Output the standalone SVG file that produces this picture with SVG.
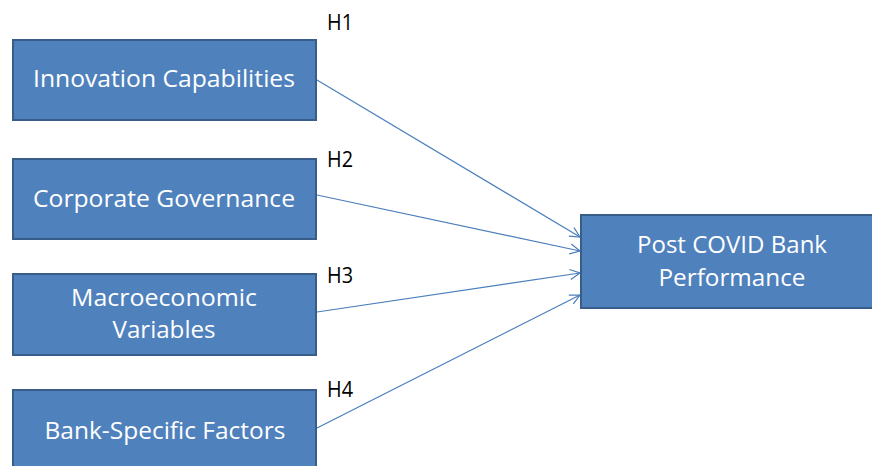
<svg xmlns="http://www.w3.org/2000/svg" width="872" height="466" viewBox="0 0 872 466">
  <style>
    .box { fill: #4f81bd; stroke: #385d8a; stroke-width: 2; }
    .label { fill: #ffffff; font-family: "Open Sans", "Liberation Sans", sans-serif; font-size: 23px; text-anchor: middle; }
    .hyp { fill: #000000; font-family: "Open Sans", "Liberation Sans", sans-serif; font-size: 21px; }
    .link { stroke: #4a7ebb; stroke-width: 1.2; fill: none; marker-end: url(#head); }
  </style>
  <defs>
    <marker id="head" viewBox="0 0 12 12" refX="11" refY="6" markerWidth="12" markerHeight="12" markerUnits="userSpaceOnUse" orient="auto">
      <path d="M1,1 L11,6 L1,11" fill="none" stroke="#4a7ebb" stroke-width="1.2"/>
    </marker>
  </defs>

  <rect width="872" height="466" fill="#ffffff"/>

  <g id="connectors">
    <line class="link" x1="317" y1="80" x2="580" y2="237"/>
    <line class="link" x1="317" y1="195" x2="580" y2="251"/>
    <line class="link" x1="317" y1="312" x2="580" y2="273"/>
    <line class="link" x1="317" y1="428" x2="580" y2="295"/>
  </g>

  <g id="innovation">
    <rect class="box" x="13" y="40" width="303" height="80"/>
    <text class="label" x="164" y="87" textLength="262" lengthAdjust="spacingAndGlyphs">Innovation Capabilities</text>
  </g>

  <g id="governance">
    <rect class="box" x="13" y="159" width="303" height="80"/>
    <text class="label" x="164" y="207" textLength="262" lengthAdjust="spacingAndGlyphs">Corporate Governance</text>
  </g>

  <g id="macro">
    <rect class="box" x="13" y="274" width="303" height="81"/>
    <text class="label" x="164" y="306" textLength="186" lengthAdjust="spacingAndGlyphs">Macroeconomic</text>
    <text class="label" x="164" y="338" textLength="103" lengthAdjust="spacingAndGlyphs">Variables</text>
  </g>

  <g id="bank-specific">
    <rect class="box" x="13" y="390" width="303" height="90"/>
    <text class="label" x="165" y="439" textLength="241" lengthAdjust="spacingAndGlyphs">Bank-Specific Factors</text>
  </g>

  <g id="performance">
    <rect class="box" x="581" y="215" width="302" height="93"/>
    <text class="label" x="732" y="253" textLength="190" lengthAdjust="spacingAndGlyphs">Post COVID Bank</text>
    <text class="label" x="732" y="286" textLength="147" lengthAdjust="spacingAndGlyphs">Performance</text>
  </g>

  <g id="hypotheses">
    <text class="hyp" x="327" y="30" textLength="26" lengthAdjust="spacingAndGlyphs">H1</text>
    <text class="hyp" x="327" y="167" textLength="26" lengthAdjust="spacingAndGlyphs">H2</text>
    <text class="hyp" x="327" y="283" textLength="26" lengthAdjust="spacingAndGlyphs">H3</text>
    <text class="hyp" x="327" y="397" textLength="26" lengthAdjust="spacingAndGlyphs">H4</text>
  </g>
</svg>
